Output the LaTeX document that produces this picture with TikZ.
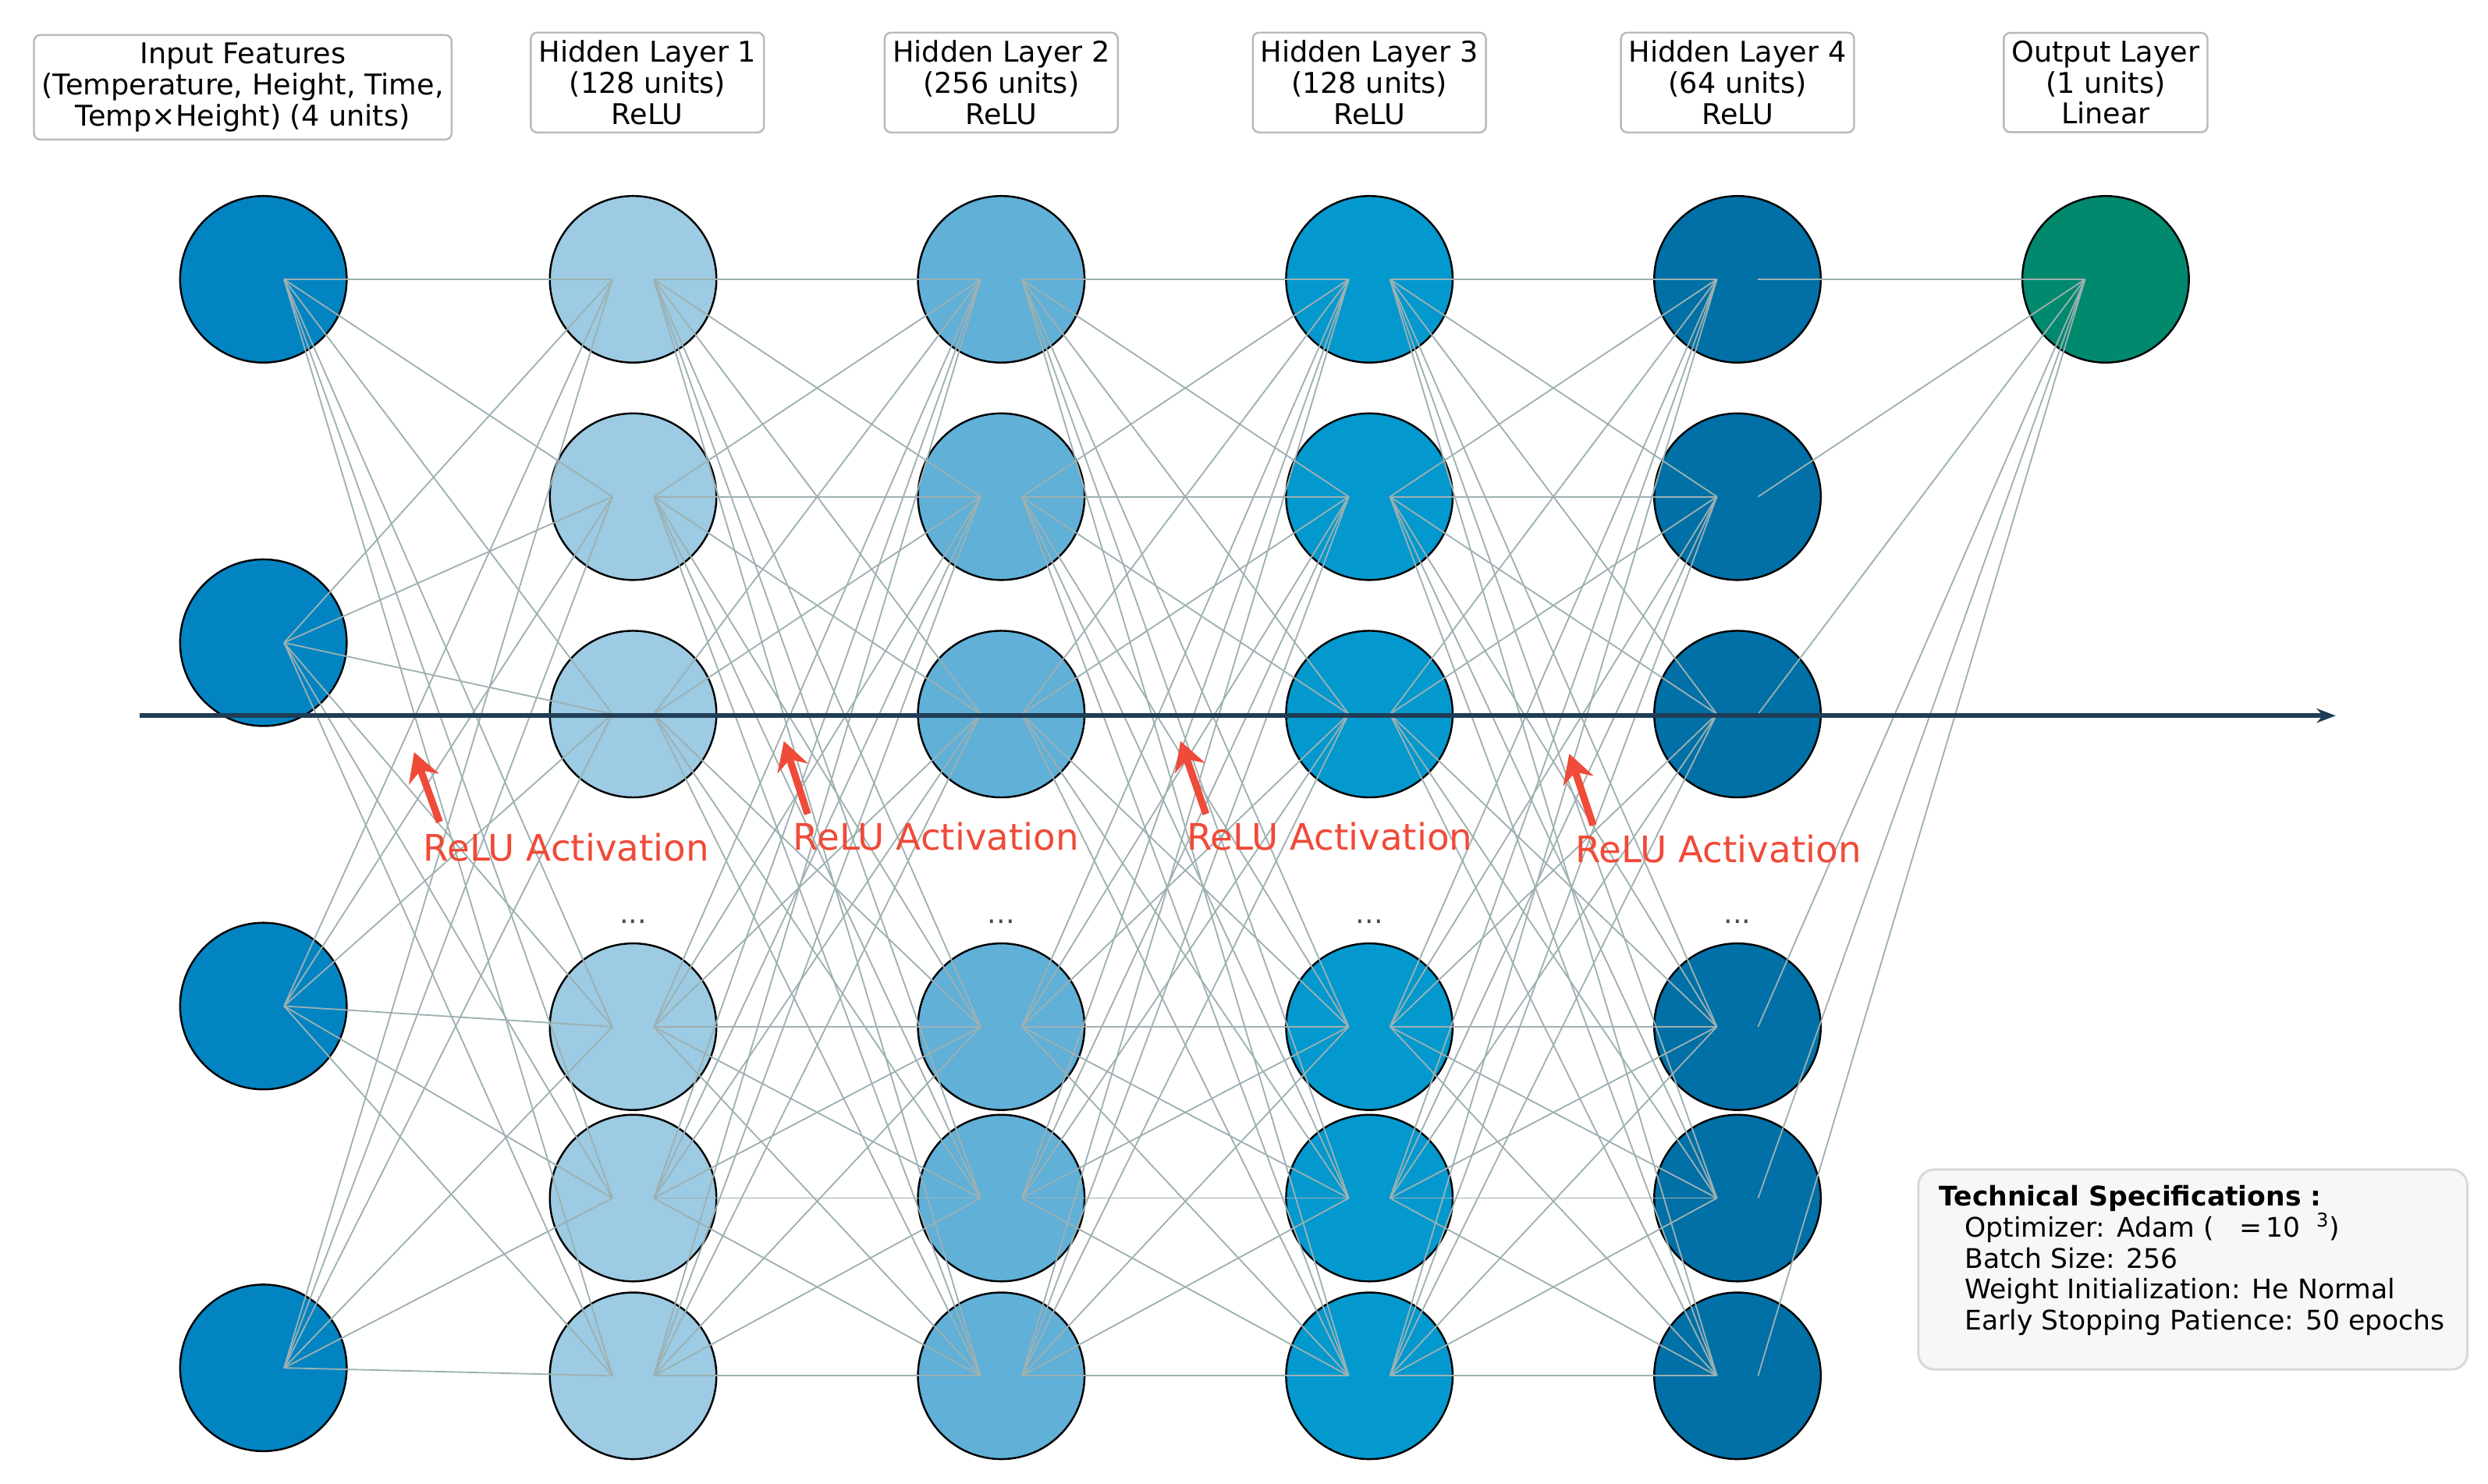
\documentclass[tikz,border=0pt]{standalone}
\usepackage{fontspec}
\setmainfont{DejaVu Sans}
\usetikzlibrary{arrows.meta}
\definecolor{cin}{HTML}{0284C2}
\definecolor{ch1}{HTML}{9CCBE3}
\definecolor{ch2}{HTML}{60B0D8}
\definecolor{ch3}{HTML}{0399CE}
\definecolor{ch4}{HTML}{0170A6}
\definecolor{cout}{HTML}{01896E}
\definecolor{edge}{HTML}{9DB0B2}
\definecolor{flow}{HTML}{1F3D55}
\definecolor{relu}{HTML}{F04A38}
\tikzset{
  neuron/.style={circle,draw=black,line width=1.2pt,minimum size=105pt,inner sep=0pt},
  lbl/.style={draw=gray!55,line width=1.2pt,rounded corners=4pt,fill=white,align=center,font=\fontsize{18}{19.5}\selectfont,inner sep=5pt},
  conn/.style={edge,line width=0.9pt},
  reluarrow/.style={relu,line width=4.5pt,-{Stealth[length=18pt,width=20pt]}},
  relulbl/.style={relu,font=\fontsize{23}{25}\selectfont},
  dots/.style={font=\fontsize{18}{19}\selectfont,text=black!70}
}
\begin{document}
\begin{tikzpicture}[x=1pt,y=-1pt]
\useasboundingbox (0,0) rectangle (1568,935);
% nodes
\foreach \y [count=\i] in {176,405,634,862} \node[neuron,fill=cin] (n-1-\i) at (166,\y) {};
\foreach \l/\x/\c in {2/399/ch1,3/631/ch2,4/863/ch3,5/1095/ch4}{
  \foreach \y [count=\i] in {176,313,450,647,755,867} \node[neuron,fill=\c] (n-\l-\i) at (\x,\y) {};
  \node[dots] (d-\l) at (\x,581) {...};
}
\node[neuron,fill=cout] (n-6-1) at (1327,176) {};
% edges
\foreach \i in {1,...,4}\foreach \j in {1,...,6}
  \draw[conn] ([xshift=13pt]n-1-\i.center) -- ([xshift=-13pt]n-2-\j.center);
\foreach \l [evaluate=\l as \m using int(\l+1)] in {2,3,4}\foreach \i in {1,...,6}\foreach \j in {1,...,6}
  \draw[conn] ([xshift=13pt]n-\l-\i.center) -- ([xshift=-13pt]n-\m-\j.center);
\foreach \i in {1,...,6}
  \draw[conn] ([xshift=13pt]n-5-\i.center) -- ([xshift=-13pt]n-6-1.center);
% labels
\node[lbl] (t1) at (153,55) {Input Features\\(Temperature, Height, Time,\\Temp\texttimes Height) (4 units)};
\node[lbl] (t2) at (408,52) {Hidden Layer 1\\(128 units)\\ReLU};
\node[lbl] (t3) at (631,52) {Hidden Layer 2\\(256 units)\\ReLU};
\node[lbl] (t4) at (863,52) {Hidden Layer 3\\(128 units)\\ReLU};
\node[lbl] (t5) at (1095,52) {Hidden Layer 4\\(64 units)\\ReLU};
\node[lbl] (t6) at (1327,52) {Output Layer\\(1 units)\\Linear};
% flow arrow
\coordinate (fs) at (88,451);
\coordinate (fe) at (1472,451);
\draw[flow,line width=3pt,-{Stealth[length=12pt,width=9pt]}] (fs) -- (fe);
% relu arrows
\foreach \k/\ax/\ay/\bx/\by/\tx/\ty in {1/277/518/261/474/357/534, 2/509/513/494/467/590/527, 3/760/513/744/467/838/527, 4/1004/520/989/475/1083/535}{
  \coordinate (ra-\k) at (\ax,\ay);
  \coordinate (rb-\k) at (\bx,\by);
  \draw[reluarrow] (ra-\k) -- (rb-\k);
  \node[relulbl] (rl-\k) at (\tx,\ty) {ReLU Activation};
}
% spec box
\node[draw=gray!30,line width=1.5pt,fill=black!3,rounded corners=10pt,minimum width=346pt,minimum height=126pt] (spec) at (1382,800) {};
\node[anchor=north west,align=left,font=\fontsize{17}{20.5}\selectfont,inner sep=0pt] (spect) at (1222,747)
 {\textbf{Technical Specifications :}\\[-1pt]
 \hspace*{16pt}Optimizer: Adam (\hspace{16pt}=\,10\hspace{10pt}\textsuperscript{3})\\[-1pt]
 \hspace*{16pt}Batch Size: 256\\[-1pt]
 \hspace*{16pt}Weight Initialization: He Normal\\[-1pt]
 \hspace*{16pt}Early Stopping Patience: 50 epochs};
\end{tikzpicture}
\end{document}
